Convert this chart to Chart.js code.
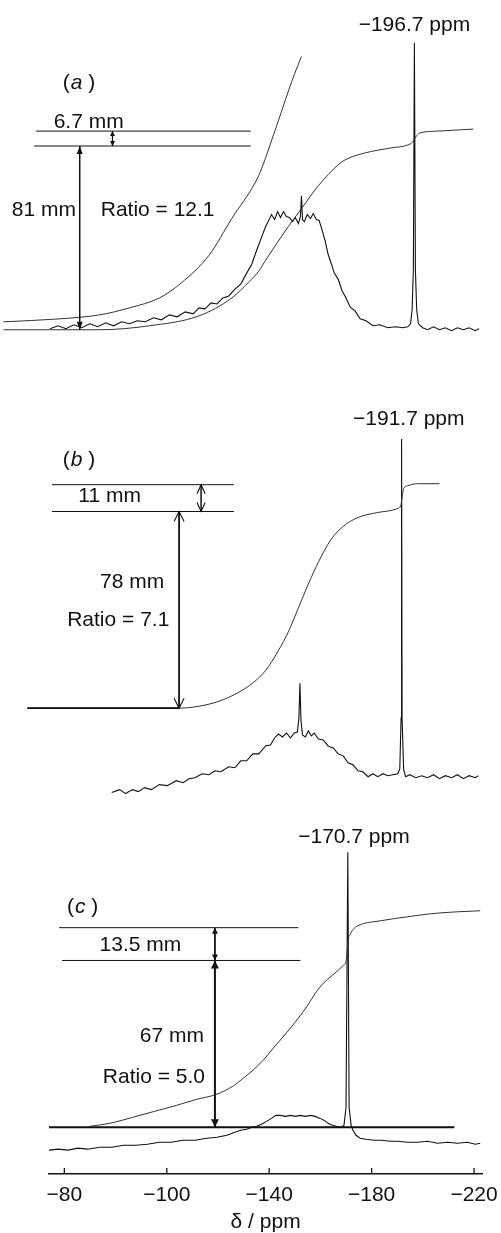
<!DOCTYPE html>
<html><head><meta charset="utf-8">
<script src="https://cdn.jsdelivr.net/npm/chart.js@4/dist/chart.umd.min.js"></script>
<style>html,body{margin:0;padding:0;background:#fff;overflow:hidden}canvas{display:block}</style>
</head><body>
<canvas id="c" width="501" height="1233"></canvas>
<script>
// ---------- x axis ----------
const tickValues = [-60, -100, -140, -180, -220];
const tickLabels = ['\u221280', '\u2212100', '\u2212140', '\u2212180', '\u2212220'];

// ---------- panel (a) ----------
const aExpPpm = [-36.2, -58.3, -73.8, -85.4, -97.1, -105.6, -116.5, -125.4, -134.7, -137.0, -139.8, -146.4, -149.8, -152.6];
const aExpVal = [8, 11, 15, 22, 32, 47, 75, 112, 149, 162, 182, 232, 257, 275];
const aIntPpm = [-36.2, -73.8, -93.2, -112.6, -125.4, -132.0, -135.9, -138.6, -147.5, -152.6, -159.2, -166.9, -169.6, -177.4, -187.5, -194.1, -196.0, -197.2, -198.7, -205.7, -219.7];
const aIntVal = [0, 0, 4, 14, 32, 48, 59, 70, 104, 122, 145, 166, 171, 178, 183, 186, 189, 194, 198, 200, 202];
const aSpecPpm = [-54.4, -57.5, -60.6, -63.7, -66.8, -69.9, -73.0, -76.1, -79.2, -82.3, -85.4, -88.5, -91.6, -94.8, -97.9, -101.0, -104.1, -107.2, -110.3, -112.6, -114.9, -117.3, -119.6, -121.9, -124.2, -126.6, -128.9, -131.2, -133.2, -135.1, -137.0, -138.6, -139.8, -140.9, -142.1, -143.3, -144.4, -145.6, -146.7, -147.9, -149.1, -150.2, -151.4, -152.2, -152.6, -153.0, -153.7, -154.9, -156.1, -157.2, -158.4, -159.5, -160.7, -161.9, -163.0, -164.2, -165.4, -166.9, -168.5, -170.0, -171.6, -173.5, -175.5, -177.8, -180.5, -183.2, -186.3, -189.4, -192.1, -194.1, -195.2, -195.8, -196.3, -196.7, -197.1, -197.6, -198.3, -199.9, -201.8, -204.2, -206.5, -208.8, -211.2, -213.5, -215.8, -218.1, -220.5, -222.0];
const aSpecVal = [1, 4, 1, 5, 2, 6, 3, 7, 4, 8, 6, 9, 8, 12, 10, 15, 13, 18, 16, 22, 21, 27, 26, 32, 34, 41, 46, 57, 66, 80, 93, 104, 110, 116, 111, 119, 113, 119, 114, 113, 109, 113, 107, 114, 135, 111, 109, 116, 112, 117, 111, 110, 100, 89, 76, 67, 57, 51, 39, 32, 23, 19, 11, 9, 4, 5, 2, 3, 2, 3, 6, 20, 60, 289, 60, 20, 6, 2, 0, 3, 0, 2, -1, 2, 0, 2, -1, 1];

// ---------- panel (b) ----------
const bIntPpm = [-45.5, -104.8, -112.6, -120.4, -128.1, -133.9, -138.6, -143.6, -147.5, -151.4, -155.3, -159.2, -164.2, -168.9, -174.7, -182.4, -190.2, -191.4, -192.0, -192.5, -194.1, -198.0, -206.5];
const bIntVal = [0, 0, 2, 7, 16, 26, 38, 58, 77, 101, 125, 147, 170, 183, 192, 197, 201, 204, 214, 221, 224, 226, 226];
const bSpecPpm = [-78.5, -81.6, -83.9, -86.6, -88.9, -91.3, -94.0, -97.1, -100.2, -103.7, -106.4, -108.7, -111.0, -113.8, -116.5, -118.8, -121.1, -124.2, -126.6, -128.9, -131.2, -133.6, -135.9, -138.6, -140.5, -142.1, -143.6, -145.2, -146.7, -148.3, -149.8, -151.0, -151.6, -152.0, -152.4, -153.0, -154.1, -155.3, -156.4, -157.6, -159.2, -161.1, -163.0, -165.0, -166.9, -168.9, -170.8, -172.7, -174.7, -176.6, -178.6, -180.5, -182.4, -184.4, -186.3, -188.3, -190.2, -191.0, -191.5, -191.7, -191.9, -192.5, -193.3, -194.9, -197.2, -199.5, -201.8, -204.2, -206.5, -208.8, -211.2, -213.5, -215.8, -218.1, -220.5, -221.6];
const bSpecVal = [-15, -12, -16, -12, -14, -10, -12, -7, -8, -3, -5, -1, 0, 4, 3, 7, 6, 11, 10, 17, 17, 24, 24, 32, 33, 40, 44, 41, 45, 40, 45, 46, 60, 95, 58, 43, 41, 47, 42, 45, 39, 38, 32, 30, 24, 22, 15, 13, 7, 6, 1, 4, 1, 4, 2, 3, 4, 9, 60, 341, 60, 8, 1, 3, 0, 2, 0, 3, -1, 2, 0, 3, -1, 2, 0, 2];

// ---------- panel (c) ----------
const cIntPpm = [-69.9, -77.7, -86.6, -95.1, -103.7, -111.4, -119.2, -126.2, -130.1, -133.9, -137.8, -141.7, -146.4, -151.4, -155.3, -158.0, -161.1, -164.2, -166.9, -168.9, -170.0, -170.4, -170.8, -171.6, -172.7, -174.7, -183.6, -194.1, -203.0, -213.5, -222.4];
const cIntVal = [1, 4, 10, 16, 22, 28, 33, 42, 50, 58, 68, 80, 94, 110, 124, 135, 145, 152, 158, 163, 167, 176, 188, 194, 199, 203, 208, 212, 215, 217, 218];
const cSpecPpm = [-54.0, -57.5, -61.4, -65.3, -69.1, -73.8, -78.5, -83.1, -87.8, -92.4, -97.1, -101.7, -106.4, -111.0, -115.7, -119.6, -123.5, -126.6, -128.9, -131.2, -133.2, -135.1, -137.0, -139.0, -140.9, -142.5, -144.4, -146.4, -148.3, -150.2, -152.2, -154.1, -156.1, -158.0, -159.9, -161.5, -163.0, -164.6, -166.1, -168.1, -169.2, -170.0, -170.7, -171.2, -172.0, -172.7, -173.9, -175.5, -177.8, -180.9, -184.0, -187.1, -190.2, -194.1, -198.0, -201.8, -205.7, -209.6, -213.5, -217.4, -220.5, -222.4];
const cSpecVal = [-23, -22, -23, -21, -22, -20, -20, -18, -18, -17, -15, -15, -13, -13, -11, -10, -8, -5, -3, -2, 0, 1, 3, 6, 9, 12, 12, 11, 12, 11, 12, 11, 12, 11, 9, 7, 4, 2, 1, 0, 2, 20, 277, 20, 2, -3, -8, -11, -12, -13, -13, -14, -14, -15, -15, -14, -16, -15, -16, -15, -17, -16];

// ---------- annotation readings (ppm, height above panel baseline) ----------
const refLines = [
  {p: 'a', x1: -49.0, x2: -132.8, h: 200, w: 1},
  {p: 'a', x1: -48.2, x2: -132.8, h: 185, w: 1},
  {p: 'b', x1: -55.2, x2: -126.2, h: 225, w: 1},
  {p: 'b', x1: -55.2, x2: -126.2, h: 198, w: 1},
  {p: 'b', x1: -45.5, x2: -104.8, h: 0, w: 1.6},
  {p: 'c', x1: -57.9, x2: -151.4, h: 201, w: 1},
  {p: 'c', x1: -59.1, x2: -152.2, h: 168, w: 1},
  {p: 'c', x1: -54.0, x2: -212.3, h: 0, w: 2}
];
const arrows = [
  {p: 'a', x: -78.8, h1: 200, h2: 185, style: 'filled', len: 5, hw: 2.5, w: 1.3},
  {p: 'a', x: -66.0, h1: 185, h2: 0, style: 'filled', len: 8, hw: 3, w: 1.5},
  {p: 'b', x: -113.4, h1: 225, h2: 198, style: 'open', len: 9, hw: 4, w: 1.5},
  {p: 'b', x: -104.8, h1: 198, h2: 0, style: 'open', len: 10, hw: 5, w: 1.8},
  {p: 'c', x: -118.8, h1: 201, h2: 168, style: 'filled', len: 6, hw: 3, w: 1.8},
  {p: 'c', x: -118.8, h1: 168, h2: 0, style: 'filled', len: 8, hw: 4, w: 2}
];
const texts = [
  {p: 'a', t: '\u2212196.7 ppm', x: -196.7, h: 307, align: 'center'},
  {p: 'a', t: '(', it: 'a', t2: ' )', x: -59.4, h: 248, align: 'left'},
  {p: 'a', t: '6.7 mm', x: -69.5, h: 209, align: 'center'},
  {p: 'a', t: '81 mm', x: -64.5, h: 120, align: 'right'},
  {p: 'a', t: 'Ratio = 12.1', x: -74.2, h: 120, align: 'left'},
  {p: 'b', t: '\u2212191.7 ppm', x: -194.5, h: 291, align: 'center'},
  {p: 'b', t: '(', it: 'b', t2: ' )', x: -59.4, h: 250, align: 'left'},
  {p: 'b', t: '11 mm', x: -77.7, h: 213, align: 'center'},
  {p: 'b', t: '78 mm', x: -99.0, h: 127, align: 'right'},
  {p: 'b', t: 'Ratio = 7.1', x: -101.0, h: 89, align: 'right'},
  {p: 'c', t: '\u2212170.7 ppm', x: -173.1, h: 292, align: 'center'},
  {p: 'c', t: '(', it: 'c', t2: ' )', x: -61.0, h: 222, align: 'left'},
  {p: 'c', t: '13.5 mm', x: -89.7, h: 183, align: 'center'},
  {p: 'c', t: '67 mm', x: -114.5, h: 92, align: 'right'},
  {p: 'c', t: 'Ratio = 5.0', x: -114.9, h: 50, align: 'right'}
];

// ---------- layout (panel baselines in y-scale units) ----------
const BASE = {a: 850, b: 469, bSpec: 399, c: 47};
const FONT = '"Liberation Sans", Arial, Helvetica, sans-serif';
const INK = '#111';

function pts(px, vals, base) { return px.map((p, i) => ({x: p, y: base + vals[i]})); }
function lineDs(data, opts) {
  return Object.assign({data, borderColor: '#222', borderWidth: 1, pointRadius: 0, showLine: true, fill: false, clip: false, tension: 0}, opts);
}

const datasets = [
  lineDs(pts(aExpPpm, aExpVal, BASE.a), {cubicInterpolationMode: 'monotone', borderColor: '#333'}),
  lineDs(pts(aIntPpm, aIntVal, BASE.a), {cubicInterpolationMode: 'monotone', borderColor: '#333'}),
  lineDs(pts(aSpecPpm, aSpecVal, BASE.a), {borderColor: '#111', borderWidth: 1.1}),
  lineDs(pts(bIntPpm, bIntVal, BASE.b), {cubicInterpolationMode: 'monotone', borderColor: '#333'}),
  lineDs(pts(bSpecPpm, bSpecVal, BASE.bSpec), {borderColor: '#111', borderWidth: 1.1}),
  lineDs(pts(cIntPpm, cIntVal, BASE.c), {cubicInterpolationMode: 'monotone', borderColor: '#333'}),
  lineDs(pts(cSpecPpm, cSpecVal, BASE.c), {borderColor: '#111', borderWidth: 1.1})
];

const annot = {
  id: 'annot',
  afterDatasetsDraw(chart) {
    const ctx = chart.ctx, xs = chart.scales.x, ys = chart.scales.y;
    const X = v => xs.getPixelForValue(v);
    const Y = (p, h) => ys.getPixelForValue(BASE[p] + h);
    ctx.save();
    ctx.strokeStyle = INK; ctx.fillStyle = INK; ctx.lineCap = 'butt';
    refLines.forEach(l => {
      ctx.lineWidth = l.w;
      const y = Y(l.p, l.h);
      ctx.beginPath(); ctx.moveTo(X(l.x1), y); ctx.lineTo(X(l.x2), y); ctx.stroke();
    });
    function head(x, y, dir, a) {
      const by = y - dir * a.len;
      ctx.beginPath();
      if (a.style === 'filled') {
        ctx.moveTo(x, y); ctx.lineTo(x - a.hw, by); ctx.lineTo(x + a.hw, by); ctx.closePath(); ctx.fill();
      } else {
        ctx.lineWidth = 1.1;
        ctx.moveTo(x - a.hw, by); ctx.lineTo(x, y); ctx.lineTo(x + a.hw, by); ctx.stroke();
      }
    }
    arrows.forEach(a => {
      const x = X(a.x), y1 = Y(a.p, a.h1), y2 = Y(a.p, a.h2);
      ctx.lineWidth = a.w;
      ctx.beginPath(); ctx.moveTo(x, y1); ctx.lineTo(x, y2); ctx.stroke();
      head(x, y1, -1, a); head(x, y2, 1, a);
    });
    ctx.textBaseline = 'middle';
    texts.forEach(t => {
      const x = X(t.x), y = Y(t.p, t.h);
      const nf = '21px ' + FONT, itf = 'italic 21px ' + FONT;
      if (t.it) {
        ctx.font = nf; const w1 = ctx.measureText(t.t).width;
        ctx.font = itf; const w2 = ctx.measureText(t.it).width;
        ctx.textAlign = 'left';
        ctx.font = nf; ctx.fillText(t.t, x, y);
        ctx.font = itf; ctx.fillText(t.it, x + w1 + 1, y);
        ctx.font = nf; ctx.fillText(t.t2, x + w1 + w2 + 1, y);
      } else {
        ctx.font = nf; ctx.textAlign = t.align; ctx.fillText(t.t, x, y);
      }
    });
    ctx.restore();
  },
  afterDraw(chart) {
    const ctx = chart.ctx, xs = chart.scales.x;
    ctx.save();
    ctx.strokeStyle = INK; ctx.lineWidth = 1.3;
    xs.ticks.forEach(t => {
      const x = xs.getPixelForValue(t.value);
      ctx.beginPath(); ctx.moveTo(x, xs.top); ctx.lineTo(x, xs.top - 6); ctx.stroke();
    });
    ctx.restore();
  }
};

new Chart(document.getElementById('c'), {
  type: 'scatter',
  data: {datasets},
  options: {
    responsive: false, animation: false, events: [],
    layout: {padding: {left: 49, right: 16, top: 0, bottom: 0}},
    plugins: {legend: {display: false}, tooltip: {enabled: false}},
    scales: {
      x: {
        type: 'linear', reverse: true, min: -223.2, max: -54.0,
        afterBuildTicks: s => { s.ticks = tickValues.map(v => ({value: v})); },
        grid: {display: false},
        border: {display: true, color: INK, width: 1.5},
        ticks: {
          autoSkip: false, maxRotation: 0, padding: 3, color: INK,
          font: {family: FONT, size: 21, lineHeight: 1.0},
          callback: v => tickLabels[tickValues.indexOf(v)]
        },
        title: {display: true, text: '\u03b4 / ppm', color: INK, font: {family: FONT, size: 21, lineHeight: 1.0}, padding: {top: 3, bottom: 0}}
      },
      y: {display: false, min: 0, max: 1182}
    }
  },
  plugins: [annot]
});
</script>
</body></html>
